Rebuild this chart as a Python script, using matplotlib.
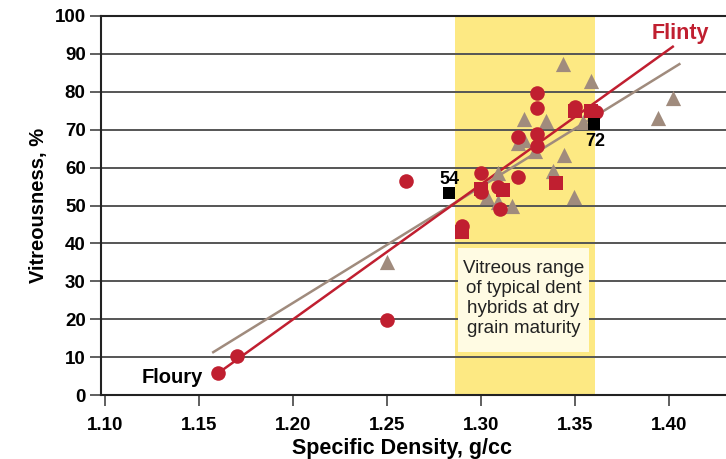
import matplotlib.pyplot as plt
from matplotlib.patches import Rectangle

plt.rcParams['font.family'] = ['Liberation Sans', 'DejaVu Sans']

# red circles
circ_x = [1.16, 1.17, 1.25, 1.26, 1.29, 1.30, 1.30, 1.309, 1.31, 1.3195, 1.3198,
          1.33, 1.33, 1.33, 1.33, 1.35, 1.361]
circ_y = [5.7, 10.2, 19.7, 56.4, 44.5, 58.6, 53.5, 54.9, 49.2, 57.6, 68.0,
          79.8, 75.8, 68.8, 65.7, 76.0, 74.7]

# red squares
sq_x = [1.29, 1.30, 1.3115, 1.34, 1.35, 1.3585]
sq_y = [43.0, 54.3, 54.0, 56.0, 75.0, 75.0]

# grey triangles
tri_x = [1.25, 1.303, 1.309, 1.3163, 1.3092, 1.3198, 1.3229, 1.3229, 1.3285,
         1.3344, 1.3385, 1.3441, 1.3496, 1.3435, 1.3583, 1.354, 1.3943, 1.402]
tri_y = [35.0, 52.3, 51.0, 50.0, 58.6, 66.4, 67.2, 72.7, 64.5,
         72.3, 59.0, 63.2, 52.3, 87.3, 82.8, 72.0, 73.0, 78.3]

# black reference samples
blk_x = [1.283, 1.360]
blk_y = [53.2, 71.5]
blk_lab = ['54', '72']

# trend line end points
red_line_x = [1.16, 1.402]
red_line_y = [5.7, 91.9]
grey_line_x = [1.1576, 1.4055]
grey_line_y = [11.3, 87.3]

band = (1.286, 1.3606)

red = '#c01f30'
grey = '#a08b7d'

fig = plt.figure(figsize=(7.26, 4.59), dpi=100)
ax = fig.add_axes([101 / 726, 64 / 459, 625 / 726, 379 / 459])
ax.set_xlim(1.0979, 1.4303)
ax.set_ylim(0, 100)

ax.axvspan(band[0], band[1], color='#fde983', zorder=0, lw=0)
for v in range(10, 100, 10):
    ax.axhline(v, color='#555555', lw=1.4, zorder=1)

ax.plot(grey_line_x, grey_line_y, color=grey, lw=1.8, zorder=3)
ax.plot(red_line_x, red_line_y, color=red, lw=1.8, zorder=3)

ax.scatter(tri_x, tri_y, marker='^', s=120, color=grey, lw=0, zorder=4)
ax.scatter(circ_x, circ_y, marker='o', s=110, color=red, lw=0, zorder=5)
ax.scatter(sq_x, sq_y, marker='s', s=95, color=red, lw=0, zorder=5)
ax.scatter(blk_x, blk_y, marker='s', s=85, color='black', lw=0, zorder=6)
ax.text(blk_x[0], 56.9, blk_lab[0], ha='center', va='center',
        fontsize=13, fontweight='bold')
ax.text(blk_x[1] + 0.0006, 67.0, blk_lab[1], ha='center', va='center',
        fontsize=13, fontweight='bold')

ax.text(1.4059, 95.5, 'Flinty', color=red, fontsize=15.5, fontweight='bold',
        ha='center', va='center')
ax.text(1.1356, 4.6, 'Floury', color='black', fontsize=14.5, fontweight='bold',
        ha='center', va='center')

ax.add_patch(Rectangle((1.2878, 11.3), 0.0696, 27.4, facecolor='#fffbe3',
                       edgecolor='none', zorder=2))
ax.text(1.3227, 25.4, 'Vitreous range\nof typical dent\nhybrids at dry\ngrain maturity',
        ha='center', va='center', fontsize=13.5, color='#222222',
        linespacing=1.22, zorder=3)

ax.set_xticks([1.10, 1.15, 1.20, 1.25, 1.30, 1.35, 1.40])
ax.set_xticklabels(['1.10', '1.15', '1.20', '1.25', '1.30', '1.35', '1.40'])
ax.set_yticks(range(0, 101, 10))
for lab in ax.get_xticklabels() + ax.get_yticklabels():
    lab.set_fontweight('bold')
ax.tick_params(axis='both', labelsize=13.5, direction='out', length=8,
               width=1.2, color='#444444')
ax.tick_params(axis='x', pad=8)
ax.tick_params(axis='y', pad=3)

ax.spines['right'].set_visible(False)
for s in ['left', 'bottom', 'top']:
    ax.spines[s].set_linewidth(1.5)
    ax.spines[s].set_color('#222222')

ax.set_xlabel('Specific Density, g/cc', fontsize=15.5, fontweight='bold')
ax.xaxis.set_label_coords((402 - 101) / 625, -0.113)
ax.set_ylabel('Vitreousness, %', fontsize=14.5, fontweight='bold', labelpad=5)

fig.savefig('out.png', dpi=100)
